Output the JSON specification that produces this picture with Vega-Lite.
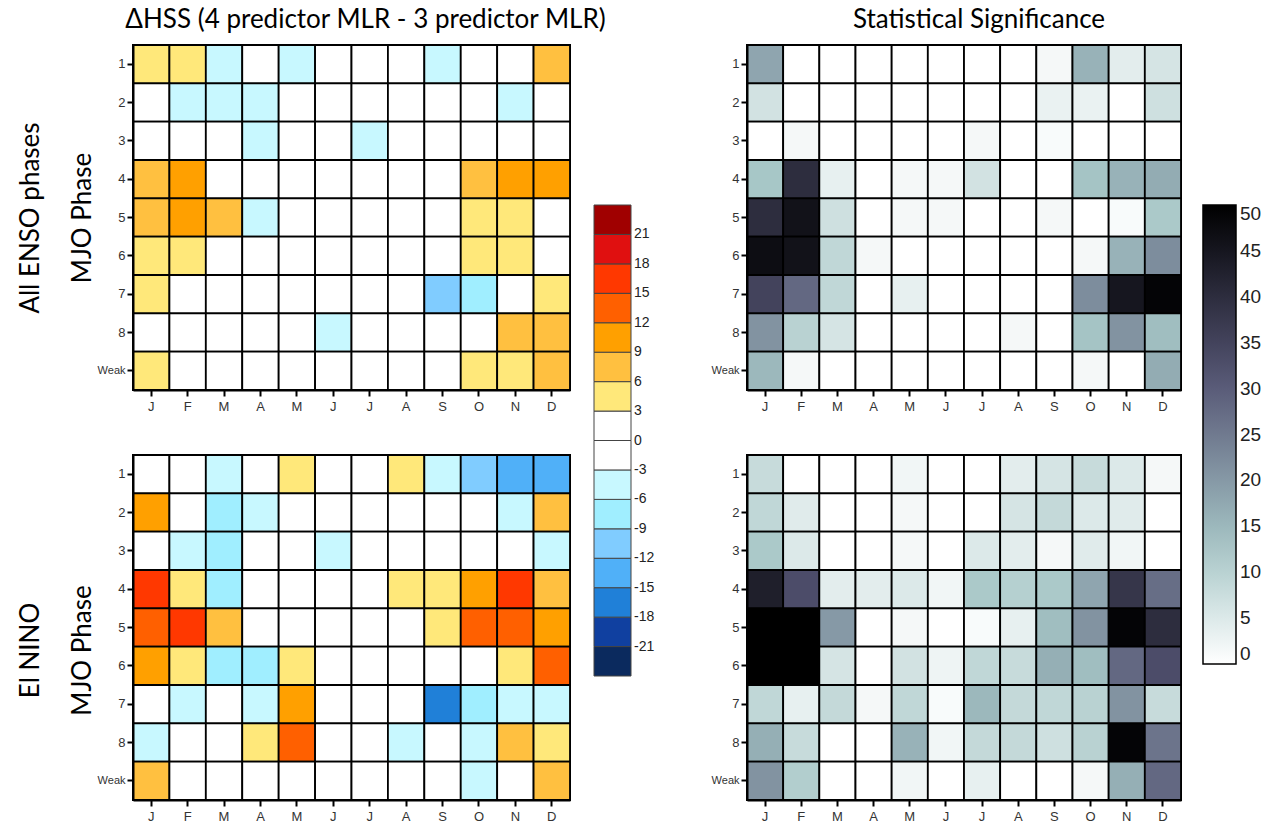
{
"$schema": "https://vega.github.io/schema/vega-lite/v6.json",
"padding": {"left": 16, "top": 6, "right": 5, "bottom": 2},
"background": "white",
"datasets": {"t": [
{"e":"A","p":"1","m":"Jan","d":4.5,"s":18},{"e":"A","p":"1","m":"Feb","d":4.5,"s":0},{"e":"A","p":"1","m":"Mar","d":-4.5,"s":0},{"e":"A","p":"1","m":"Apr","d":0,"s":0},{"e":"A","p":"1","m":"May","d":-4.5,"s":0},{"e":"A","p":"1","m":"Jun","d":0,"s":0},{"e":"A","p":"1","m":"Jul","d":0,"s":0},{"e":"A","p":"1","m":"Aug","d":0,"s":0},{"e":"A","p":"1","m":"Sep","d":-4.5,"s":1.5},{"e":"A","p":"1","m":"Oct","d":0,"s":16},{"e":"A","p":"1","m":"Nov","d":0,"s":4},{"e":"A","p":"1","m":"Dec","d":7.5,"s":6},
{"e":"A","p":"2","m":"Jan","d":0,"s":6.5},{"e":"A","p":"2","m":"Feb","d":-4.5,"s":0},{"e":"A","p":"2","m":"Mar","d":-4.5,"s":0},{"e":"A","p":"2","m":"Apr","d":-4.5,"s":0},{"e":"A","p":"2","m":"May","d":0,"s":0},{"e":"A","p":"2","m":"Jun","d":0,"s":0},{"e":"A","p":"2","m":"Jul","d":0,"s":0},{"e":"A","p":"2","m":"Aug","d":0,"s":0},{"e":"A","p":"2","m":"Sep","d":0,"s":3},{"e":"A","p":"2","m":"Oct","d":0,"s":3},{"e":"A","p":"2","m":"Nov","d":-4.5,"s":0},{"e":"A","p":"2","m":"Dec","d":0,"s":7},
{"e":"A","p":"3","m":"Jan","d":0,"s":0},{"e":"A","p":"3","m":"Feb","d":0,"s":1.5},{"e":"A","p":"3","m":"Mar","d":0,"s":0},{"e":"A","p":"3","m":"Apr","d":-4.5,"s":0},{"e":"A","p":"3","m":"May","d":0,"s":0},{"e":"A","p":"3","m":"Jun","d":0,"s":0},{"e":"A","p":"3","m":"Jul","d":-4.5,"s":1.5},{"e":"A","p":"3","m":"Aug","d":0,"s":0},{"e":"A","p":"3","m":"Sep","d":0,"s":1},{"e":"A","p":"3","m":"Oct","d":0,"s":0},{"e":"A","p":"3","m":"Nov","d":0,"s":0},{"e":"A","p":"3","m":"Dec","d":0,"s":0},
{"e":"A","p":"4","m":"Jan","d":7.5,"s":12.5},{"e":"A","p":"4","m":"Feb","d":10.5,"s":40},{"e":"A","p":"4","m":"Mar","d":0,"s":3.5},{"e":"A","p":"4","m":"Apr","d":0,"s":0},{"e":"A","p":"4","m":"May","d":0,"s":1.5},{"e":"A","p":"4","m":"Jun","d":0,"s":1.5},{"e":"A","p":"4","m":"Jul","d":0,"s":6.5},{"e":"A","p":"4","m":"Aug","d":0,"s":0},{"e":"A","p":"4","m":"Sep","d":0,"s":0},{"e":"A","p":"4","m":"Oct","d":7.5,"s":13},{"e":"A","p":"4","m":"Nov","d":10.5,"s":16},{"e":"A","p":"4","m":"Dec","d":10.5,"s":17},
{"e":"A","p":"5","m":"Jan","d":7.5,"s":40},{"e":"A","p":"5","m":"Feb","d":10.5,"s":46},{"e":"A","p":"5","m":"Mar","d":7.5,"s":7},{"e":"A","p":"5","m":"Apr","d":-4.5,"s":0},{"e":"A","p":"5","m":"May","d":0,"s":1.5},{"e":"A","p":"5","m":"Jun","d":0,"s":1.5},{"e":"A","p":"5","m":"Jul","d":0,"s":0},{"e":"A","p":"5","m":"Aug","d":0,"s":0},{"e":"A","p":"5","m":"Sep","d":0,"s":1.5},{"e":"A","p":"5","m":"Oct","d":4.5,"s":0},{"e":"A","p":"5","m":"Nov","d":4.5,"s":1},{"e":"A","p":"5","m":"Dec","d":0,"s":12},
{"e":"A","p":"6","m":"Jan","d":4.5,"s":47},{"e":"A","p":"6","m":"Feb","d":4.5,"s":46},{"e":"A","p":"6","m":"Mar","d":0,"s":9},{"e":"A","p":"6","m":"Apr","d":0,"s":1.5},{"e":"A","p":"6","m":"May","d":0,"s":0},{"e":"A","p":"6","m":"Jun","d":0,"s":0},{"e":"A","p":"6","m":"Jul","d":0,"s":0},{"e":"A","p":"6","m":"Aug","d":0,"s":0},{"e":"A","p":"6","m":"Sep","d":0,"s":0},{"e":"A","p":"6","m":"Oct","d":4.5,"s":1.5},{"e":"A","p":"6","m":"Nov","d":4.5,"s":16},{"e":"A","p":"6","m":"Dec","d":0,"s":22},
{"e":"A","p":"7","m":"Jan","d":4.5,"s":35},{"e":"A","p":"7","m":"Feb","d":0,"s":28},{"e":"A","p":"7","m":"Mar","d":0,"s":9},{"e":"A","p":"7","m":"Apr","d":0,"s":0},{"e":"A","p":"7","m":"May","d":0,"s":3.5},{"e":"A","p":"7","m":"Jun","d":0,"s":0},{"e":"A","p":"7","m":"Jul","d":0,"s":0},{"e":"A","p":"7","m":"Aug","d":0,"s":0},{"e":"A","p":"7","m":"Sep","d":-10.5,"s":0},{"e":"A","p":"7","m":"Oct","d":-7.5,"s":22},{"e":"A","p":"7","m":"Nov","d":0,"s":45},{"e":"A","p":"7","m":"Dec","d":4.5,"s":49},
{"e":"A","p":"8","m":"Jan","d":0,"s":21},{"e":"A","p":"8","m":"Feb","d":0,"s":10},{"e":"A","p":"8","m":"Mar","d":0,"s":6},{"e":"A","p":"8","m":"Apr","d":0,"s":0},{"e":"A","p":"8","m":"May","d":0,"s":0},{"e":"A","p":"8","m":"Jun","d":-4.5,"s":0},{"e":"A","p":"8","m":"Jul","d":0,"s":0},{"e":"A","p":"8","m":"Aug","d":0,"s":1.5},{"e":"A","p":"8","m":"Sep","d":0,"s":0},{"e":"A","p":"8","m":"Oct","d":0,"s":13},{"e":"A","p":"8","m":"Nov","d":7.5,"s":21},{"e":"A","p":"8","m":"Dec","d":7.5,"s":14},
{"e":"A","p":"Weak","m":"Jan","d":4.5,"s":15},{"e":"A","p":"Weak","m":"Feb","d":0,"s":1.5},{"e":"A","p":"Weak","m":"Mar","d":0,"s":0},{"e":"A","p":"Weak","m":"Apr","d":0,"s":0},{"e":"A","p":"Weak","m":"May","d":0,"s":0},{"e":"A","p":"Weak","m":"Jun","d":0,"s":0},{"e":"A","p":"Weak","m":"Jul","d":0,"s":0},{"e":"A","p":"Weak","m":"Aug","d":0,"s":0},{"e":"A","p":"Weak","m":"Sep","d":0,"s":0},{"e":"A","p":"Weak","m":"Oct","d":4.5,"s":1.5},{"e":"A","p":"Weak","m":"Nov","d":4.5,"s":0},{"e":"A","p":"Weak","m":"Dec","d":7.5,"s":17},
{"e":"E","p":"1","m":"Jan","d":0,"s":8},{"e":"E","p":"1","m":"Feb","d":0,"s":0},{"e":"E","p":"1","m":"Mar","d":-4.5,"s":0},{"e":"E","p":"1","m":"Apr","d":0,"s":0},{"e":"E","p":"1","m":"May","d":4.5,"s":2},{"e":"E","p":"1","m":"Jun","d":0,"s":0},{"e":"E","p":"1","m":"Jul","d":0,"s":0},{"e":"E","p":"1","m":"Aug","d":4.5,"s":4},{"e":"E","p":"1","m":"Sep","d":-4.5,"s":6},{"e":"E","p":"1","m":"Oct","d":-10.5,"s":8},{"e":"E","p":"1","m":"Nov","d":-13.5,"s":5},{"e":"E","p":"1","m":"Dec","d":-13.5,"s":1.5},
{"e":"E","p":"2","m":"Jan","d":10.5,"s":9},{"e":"E","p":"2","m":"Feb","d":0,"s":4.5},{"e":"E","p":"2","m":"Mar","d":-7.5,"s":0},{"e":"E","p":"2","m":"Apr","d":-4.5,"s":0},{"e":"E","p":"2","m":"May","d":0,"s":1.5},{"e":"E","p":"2","m":"Jun","d":0,"s":0},{"e":"E","p":"2","m":"Jul","d":0,"s":0},{"e":"E","p":"2","m":"Aug","d":0,"s":6},{"e":"E","p":"2","m":"Sep","d":0,"s":8.5},{"e":"E","p":"2","m":"Oct","d":0,"s":5},{"e":"E","p":"2","m":"Nov","d":-4.5,"s":4.5},{"e":"E","p":"2","m":"Dec","d":7.5,"s":0},
{"e":"E","p":"3","m":"Jan","d":0,"s":12},{"e":"E","p":"3","m":"Feb","d":-4.5,"s":5},{"e":"E","p":"3","m":"Mar","d":-7.5,"s":0},{"e":"E","p":"3","m":"Apr","d":0,"s":0},{"e":"E","p":"3","m":"May","d":0,"s":1.5},{"e":"E","p":"3","m":"Jun","d":-4.5,"s":0},{"e":"E","p":"3","m":"Jul","d":0,"s":5},{"e":"E","p":"3","m":"Aug","d":0,"s":4},{"e":"E","p":"3","m":"Sep","d":0,"s":1.5},{"e":"E","p":"3","m":"Oct","d":0,"s":4.5},{"e":"E","p":"3","m":"Nov","d":0,"s":2},{"e":"E","p":"3","m":"Dec","d":-4.5,"s":0},
{"e":"E","p":"4","m":"Jan","d":16.5,"s":43},{"e":"E","p":"4","m":"Feb","d":4.5,"s":33},{"e":"E","p":"4","m":"Mar","d":-7.5,"s":4},{"e":"E","p":"4","m":"Apr","d":0,"s":4},{"e":"E","p":"4","m":"May","d":0,"s":5},{"e":"E","p":"4","m":"Jun","d":0,"s":2},{"e":"E","p":"4","m":"Jul","d":0,"s":12},{"e":"E","p":"4","m":"Aug","d":4.5,"s":10.5},{"e":"E","p":"4","m":"Sep","d":4.5,"s":12},{"e":"E","p":"4","m":"Oct","d":10.5,"s":18},{"e":"E","p":"4","m":"Nov","d":16.5,"s":38},{"e":"E","p":"4","m":"Dec","d":7.5,"s":27},
{"e":"E","p":"5","m":"Jan","d":13.5,"s":50},{"e":"E","p":"5","m":"Feb","d":16.5,"s":50},{"e":"E","p":"5","m":"Mar","d":7.5,"s":20},{"e":"E","p":"5","m":"Apr","d":0,"s":0},{"e":"E","p":"5","m":"May","d":0,"s":1.5},{"e":"E","p":"5","m":"Jun","d":0,"s":0},{"e":"E","p":"5","m":"Jul","d":0,"s":1},{"e":"E","p":"5","m":"Aug","d":0,"s":3.5},{"e":"E","p":"5","m":"Sep","d":4.5,"s":14},{"e":"E","p":"5","m":"Oct","d":13.5,"s":21},{"e":"E","p":"5","m":"Nov","d":13.5,"s":49},{"e":"E","p":"5","m":"Dec","d":10.5,"s":40},
{"e":"E","p":"6","m":"Jan","d":10.5,"s":50},{"e":"E","p":"6","m":"Feb","d":4.5,"s":50},{"e":"E","p":"6","m":"Mar","d":-7.5,"s":6},{"e":"E","p":"6","m":"Apr","d":-7.5,"s":0},{"e":"E","p":"6","m":"May","d":4.5,"s":6.5},{"e":"E","p":"6","m":"Jun","d":0,"s":2.5},{"e":"E","p":"6","m":"Jul","d":0,"s":9},{"e":"E","p":"6","m":"Aug","d":0,"s":8},{"e":"E","p":"6","m":"Sep","d":0,"s":16.5},{"e":"E","p":"6","m":"Oct","d":0,"s":14},{"e":"E","p":"6","m":"Nov","d":4.5,"s":28},{"e":"E","p":"6","m":"Dec","d":13.5,"s":33},
{"e":"E","p":"7","m":"Jan","d":0,"s":9},{"e":"E","p":"7","m":"Feb","d":-4.5,"s":3.5},{"e":"E","p":"7","m":"Mar","d":0,"s":8.5},{"e":"E","p":"7","m":"Apr","d":-4.5,"s":1.5},{"e":"E","p":"7","m":"May","d":10.5,"s":9},{"e":"E","p":"7","m":"Jun","d":0,"s":1},{"e":"E","p":"7","m":"Jul","d":0,"s":15},{"e":"E","p":"7","m":"Aug","d":0,"s":8.5},{"e":"E","p":"7","m":"Sep","d":-16.5,"s":9},{"e":"E","p":"7","m":"Oct","d":-7.5,"s":10},{"e":"E","p":"7","m":"Nov","d":-4.5,"s":21},{"e":"E","p":"7","m":"Dec","d":-4.5,"s":8},
{"e":"E","p":"8","m":"Jan","d":-4.5,"s":16.5},{"e":"E","p":"8","m":"Feb","d":0,"s":8},{"e":"E","p":"8","m":"Mar","d":0,"s":0},{"e":"E","p":"8","m":"Apr","d":4.5,"s":0},{"e":"E","p":"8","m":"May","d":13.5,"s":16},{"e":"E","p":"8","m":"Jun","d":0,"s":2},{"e":"E","p":"8","m":"Jul","d":0,"s":8.5},{"e":"E","p":"8","m":"Aug","d":-4.5,"s":8.5},{"e":"E","p":"8","m":"Sep","d":0,"s":7},{"e":"E","p":"8","m":"Oct","d":-4.5,"s":10},{"e":"E","p":"8","m":"Nov","d":7.5,"s":49},{"e":"E","p":"8","m":"Dec","d":4.5,"s":26},
{"e":"E","p":"Weak","m":"Jan","d":7.5,"s":21},{"e":"E","p":"Weak","m":"Feb","d":0,"s":11},{"e":"E","p":"Weak","m":"Mar","d":0,"s":0},{"e":"E","p":"Weak","m":"Apr","d":0,"s":0},{"e":"E","p":"Weak","m":"May","d":0,"s":2},{"e":"E","p":"Weak","m":"Jun","d":0,"s":0},{"e":"E","p":"Weak","m":"Jul","d":0,"s":3.5},{"e":"E","p":"Weak","m":"Aug","d":0,"s":0},{"e":"E","p":"Weak","m":"Sep","d":0,"s":0},{"e":"E","p":"Weak","m":"Oct","d":-4.5,"s":1.5},{"e":"E","p":"Weak","m":"Nov","d":0,"s":16.5},{"e":"E","p":"Weak","m":"Dec","d":7.5,"s":28}
]},
"config": {
  "view": {"stroke": "black", "strokeWidth": 2},
  "axis": {"labelFont": "Liberation Sans", "labelFontSize": 13, "labelColor": "#333333", "domainColor": "black", "domainWidth": 2, "tickColor": "black", "tickWidth": 2, "tickSize": 6, "grid": false, "titleFont": "Lato", "titleFontSize": 26, "titleFontWeight": "normal", "titleColor": "black"},
  "title": {"font": "Lato", "fontSize": 26, "fontWeight": "normal", "color": "black"},
  "legend": {"labelFont": "Liberation Sans", "labelColor": "#222222"}
},
"columns": 2,
"bounds": "flush",
"spacing": {"row": 65, "column": 177},
"resolve": {"scale": {"color": "independent"}},
"concat": [
 {
  "width": 437, "height": 345,
  "title": {"text": "ΔHSS (4 predictor MLR - 3 predictor MLR)", "frame": "group", "dx": 14, "offset": 11},
  "data": {"name": "t"},
  "transform": [{"filter": "datum.e == 'A'"}],
  "mark": {"type": "rect", "stroke": "black", "strokeWidth": 1.8, "opacity": 1},
  "encoding": {
    "x": {"field": "m", "type": "nominal", "scale": {"domain": ["Jan","Feb","Mar","Apr","May","Jun","Jul","Aug","Sep","Oct","Nov","Dec"]}, "axis": {"title": null, "labelAngle": 0, "labelExpr": "substring(datum.label,0,1)", "labelPadding": 4}},
    "y": {"field": "p", "type": "nominal", "scale": {"domain": ["1","2","3","4","5","6","7","8","Weak"]}, "axis": {"title": ["All ENSO phases", "MJO Phase"], "titleLineHeight": 52, "titlePadding": 2, "labelFontSize": {"condition": {"test": "datum.label == 'Weak'", "value": 11}, "value": 13}}},
    "color": {"field": "d", "type": "quantitative",
      "scale": {"type": "threshold", "domain": [-21,-18,-15,-12,-9,-6,-3,0,3,6,9,12,15,18,21], "range": ["#0b2a5e","#1040a0","#2080d8","#50b0f8","#80ccff","#a0eeff","#c8f8ff","#ffffff","#ffffff","#ffe87a","#ffc040","#ffa000","#ff6000","#ff3800","#e01010","#a00000"]},
      "legend": {"type": "gradient", "title": null, "orient": "none", "legendX": 461, "legendY": 160, "direction": "vertical", "gradientLength": 471, "gradientThickness": 37, "labelFontSize": 14, "gradientStrokeColor": "#444444", "gradientStrokeWidth": 1, "labelOffset": 3}}
  }
 },
 {
  "width": 434, "height": 345,
  "title": {"text": "Statistical Significance", "frame": "group", "dx": 15, "offset": 11},
  "data": {"name": "t"},
  "transform": [{"filter": "datum.e == 'A'"}],
  "mark": {"type": "rect", "stroke": "black", "strokeWidth": 1.8, "opacity": 1},
  "encoding": {
    "x": {"field": "m", "type": "nominal", "scale": {"domain": ["Jan","Feb","Mar","Apr","May","Jun","Jul","Aug","Sep","Oct","Nov","Dec"]}, "axis": {"title": null, "labelAngle": 0, "labelExpr": "substring(datum.label,0,1)", "labelPadding": 4}},
    "y": {"field": "p", "type": "nominal", "scale": {"domain": ["1","2","3","4","5","6","7","8","Weak"]}, "axis": {"title": null, "labelFontSize": {"condition": {"test": "datum.label == 'Weak'", "value": 11}, "value": 13}}},
    "color": {"field": "s", "type": "quantitative",
      "scale": {"domain": [0,5,10,12.5,15,20,25,31.25,35,40,45,50], "range": ["#ffffff","#dce9e9","#b9d2d2","#a7c7c7","#9cb8bc","#8699a6","#707a8f","#545474","#43435c","#2d2d3e","#16161f","#000000"], "interpolate": "rgb"},
      "legend": {"title": null, "orient": "none", "legendX": 456, "legendY": 160, "direction": "vertical", "gradientLength": 459, "gradientThickness": 33, "values": [0,5,10,15,20,25,30,35,40,45,50], "labelFontSize": 19, "gradientStrokeColor": "black", "gradientStrokeWidth": 1.5, "labelOffset": 4}}
  }
 },
 {
  "width": 437, "height": 345,
  "data": {"name": "t"},
  "transform": [{"filter": "datum.e == 'E'"}],
  "mark": {"type": "rect", "stroke": "black", "strokeWidth": 1.8, "opacity": 1},
  "encoding": {
    "x": {"field": "m", "type": "nominal", "scale": {"domain": ["Jan","Feb","Mar","Apr","May","Jun","Jul","Aug","Sep","Oct","Nov","Dec"]}, "axis": {"title": null, "labelAngle": 0, "labelExpr": "substring(datum.label,0,1)", "labelPadding": 4}},
    "y": {"field": "p", "type": "nominal", "scale": {"domain": ["1","2","3","4","5","6","7","8","Weak"]}, "axis": {"title": ["El NINO", "MJO Phase"], "titleLineHeight": 52, "titlePadding": 2, "titleY": 195, "labelFontSize": {"condition": {"test": "datum.label == 'Weak'", "value": 11}, "value": 13}}},
    "color": {"field": "d", "type": "quantitative",
      "scale": {"type": "threshold", "domain": [-21,-18,-15,-12,-9,-6,-3,0,3,6,9,12,15,18,21], "range": ["#0b2a5e","#1040a0","#2080d8","#50b0f8","#80ccff","#a0eeff","#c8f8ff","#ffffff","#ffffff","#ffe87a","#ffc040","#ffa000","#ff6000","#ff3800","#e01010","#a00000"]},
      "legend": null}
  }
 },
 {
  "width": 434, "height": 345,
  "data": {"name": "t"},
  "transform": [{"filter": "datum.e == 'E'"}],
  "mark": {"type": "rect", "stroke": "black", "strokeWidth": 1.8, "opacity": 1},
  "encoding": {
    "x": {"field": "m", "type": "nominal", "scale": {"domain": ["Jan","Feb","Mar","Apr","May","Jun","Jul","Aug","Sep","Oct","Nov","Dec"]}, "axis": {"title": null, "labelAngle": 0, "labelExpr": "substring(datum.label,0,1)", "labelPadding": 4}},
    "y": {"field": "p", "type": "nominal", "scale": {"domain": ["1","2","3","4","5","6","7","8","Weak"]}, "axis": {"title": null, "labelFontSize": {"condition": {"test": "datum.label == 'Weak'", "value": 11}, "value": 13}}},
    "color": {"field": "s", "type": "quantitative",
      "scale": {"domain": [0,5,10,12.5,15,20,25,31.25,35,40,45,50], "range": ["#ffffff","#dce9e9","#b9d2d2","#a7c7c7","#9cb8bc","#8699a6","#707a8f","#545474","#43435c","#2d2d3e","#16161f","#000000"], "interpolate": "rgb"},
      "legend": null}
  }
 }
]
}
